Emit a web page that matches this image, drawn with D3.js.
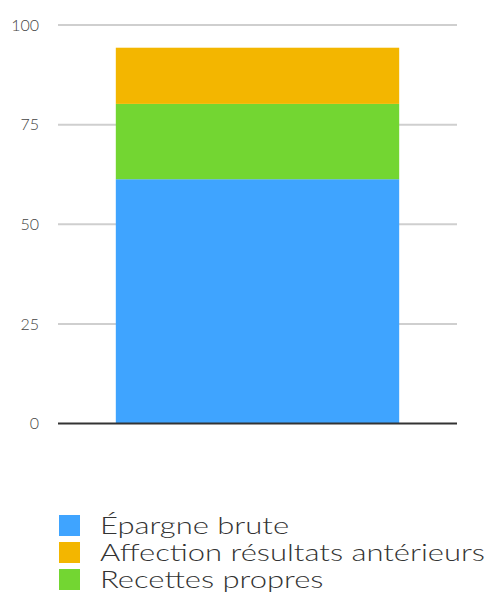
<!DOCTYPE html>
<html><head><meta charset="utf-8">
<script src="https://cdn.jsdelivr.net/npm/d3@7"></script>
<style>body{margin:0;background:#fff}svg{display:block}</style>
</head><body>
<svg id="c" width="496" height="595"></svg>
<script>
const categories = ["Total"];
const seriesNames = ["Épargne brute", "Recettes propres", "Affection résultats antérieurs"];
const epargneBrute = [61.3];
const recettesPropres = [18.9];
const affectionResultats = [14.1];
const yTicks = [0, 25, 50, 75, 100];
const legendOrder = ["Épargne brute", "Affection résultats antérieurs", "Recettes propres"];
const colors = {"Épargne brute":"#3fa4ff","Affection résultats antérieurs":"#f3b600","Recettes propres":"#73d632"};

const svg = d3.select("#c");
const x0 = 58, x1 = 457, yTop = 25, yBot = 423.5;
const y = d3.scaleLinear().domain([0,100]).range([yBot, yTop]);
const x = d3.scaleBand().domain(categories).range([x0, x1]).paddingInner(0).paddingOuter(0.204);

const rows = categories.map((c,i)=>({cat:c,"Épargne brute":epargneBrute[i],"Recettes propres":recettesPropres[i],"Affection résultats antérieurs":affectionResultats[i]}));
const stack = d3.stack().keys(seriesNames)(rows);

svg.append("g").selectAll("line").data(yTicks.filter(t=>t>0)).join("line")
  .attr("x1",x0).attr("x2",x1).attr("y1",d=>y(d)).attr("y2",d=>y(d))
  .attr("stroke","#cfcfcf").attr("stroke-width",2);

svg.append("g").selectAll("text").data(yTicks).join("text")
  .attr("x",39).attr("y",d=>y(d)).attr("dy","0.36em").attr("text-anchor","end")
  .attr("font-family","Lato, sans-serif").attr("font-weight",300).attr("font-size",16).attr("fill","#444")
  .text(d=>d);

svg.append("g").selectAll("g").data(stack).join("g").attr("fill",d=>colors[d.key])
  .selectAll("rect").data(d=>d).join("rect")
  .attr("x",d=>x(d.data.cat)).attr("width",x.bandwidth())
  .attr("y",d=>y(d[1])).attr("height",d=>y(d[0])-y(d[1]));

svg.append("line").attr("x1",x0).attr("x2",x1).attr("y1",yBot).attr("y2",yBot)
  .attr("stroke","#333").attr("stroke-width",2);

const lg = svg.append("g").selectAll("g").data(legendOrder).join("g")
  .attr("transform",(d,i)=>`translate(59,${515+i*27})`);
lg.append("rect").attr("width",21).attr("height",21).attr("fill",d=>colors[d]);
const lt = lg.append("text").attr("x",41).attr("y",19).attr("font-family","Lato, sans-serif")
  .attr("font-weight",300).attr("font-size",24).attr("fill","#333").text(d=>d);
const widths = lt.nodes().map(n=>n.getComputedTextLength());
const k = 385 / d3.max(widths);
lt.attr("textLength",(d,i)=>widths[i]*k).attr("lengthAdjust","spacingAndGlyphs");
</script>
</body></html>
